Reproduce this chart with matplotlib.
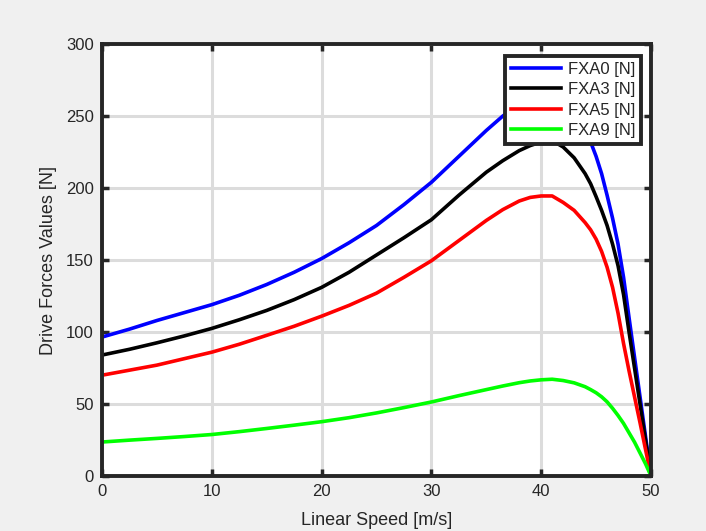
import numpy as np
import matplotlib
matplotlib.use("Agg")
import matplotlib.pyplot as plt

# speed samples [m/s]
speed = [0, 2.5, 5, 7.5, 10, 12.5, 15, 17.5, 20, 22.5, 25, 27.5, 30, 32.5, 35,
         36.5, 38, 39, 40, 41, 42, 43, 44, 44.5, 45, 45.5, 46, 46.5, 47, 47.5,
         48, 48.5, 49, 49.5, 50]

# drive forces [N]
fxa0 = [96.5, 102, 108, 113.5, 119, 125.5, 133, 141.5, 151, 162, 174, 188.5, 204, 222, 240,
        250, 258, 262, 265, 266, 261.5, 253, 240, 232, 222, 210, 195, 179, 161, 138,
        110, 82.5, 55, 27.5, 0]
fxa3 = [84, 88, 92.5, 97.3, 102.5, 108.5, 115, 122.5, 131, 141.5, 153.5, 165.5, 178, 195, 211,
        219, 226, 229.5, 232, 233, 228.5, 221, 210, 203, 194, 184.5, 174, 161, 146, 126,
        100, 75, 50, 25, 0]
fxa5 = [70, 73.5, 77, 81.5, 86, 91.5, 97.7, 104, 111, 118.5, 127, 138, 149.5, 163.5, 177.5,
        185, 191, 193.5, 194.5, 194.5, 190, 184.5, 176, 171, 164.5, 156, 145, 131, 113, 92,
        73, 55, 37, 18.5, 0]
fxa9 = [23.6, 24.9, 26.1, 27.4, 28.8, 30.8, 33, 35.3, 37.7, 40.5, 43.8, 47.5, 51.4, 55.8, 60,
        62.5, 64.8, 66, 66.8, 67.2, 66.3, 64.7, 62, 60, 57.8, 55, 51.5, 47, 42, 36.5,
        30, 23.5, 16, 8.5, 0]

series = [("FXA0 [N]", fxa0, "#0000ff"),
          ("FXA3 [N]", fxa3, "#000000"),
          ("FXA5 [N]", fxa5, "#ff0000"),
          ("FXA9 [N]", fxa9, "#00ff00")]

plt.rcParams["font.family"] = ["Liberation Sans", "DejaVu Sans"]
dark = "#262626"

fig = plt.figure(figsize=(7.06, 5.31), dpi=100, facecolor="#f0f0f0")
ax = fig.add_axes([0.1445, 0.1036, 0.7776, 0.8134])
ax.set_facecolor("white")

for label, vals, col in series:
    ax.plot(speed, vals, color=col, lw=2.6, label=label, solid_joinstyle="round")

ax.set_xlim(0, 50)
ax.set_ylim(0, 300)
ax.set_xticks(np.arange(0, 51, 10))
ax.set_yticks(np.arange(0, 301, 50))
ax.grid(True, color="#dcdcdc", lw=2.2)
ax.set_axisbelow(True)

for sp in ax.spines.values():
    sp.set_linewidth(2.8)
    sp.set_color(dark)
ax.tick_params(direction="in", length=5, width=2.5, colors=dark,
               labelsize=12, labelcolor=dark, top=True, right=True, pad=6)

ax.set_xlabel("Linear Speed [m/s]", fontsize=13, color=dark, labelpad=9)
ax.set_ylabel("Drive Forces Values [N]", fontsize=13, color=dark, labelpad=6)

leg = ax.legend(loc="upper right", bbox_to_anchor=(0.982, 0.972), fontsize=12,
                fancybox=False, framealpha=1, edgecolor=dark, handlelength=3.0,
                borderpad=0.35, labelspacing=0.32, handletextpad=0.4, borderaxespad=0)
leg.get_frame().set_linewidth(2.8)
for t in leg.get_texts():
    t.set_color(dark)

fig.savefig("out.png", dpi=100, facecolor=fig.get_facecolor())
